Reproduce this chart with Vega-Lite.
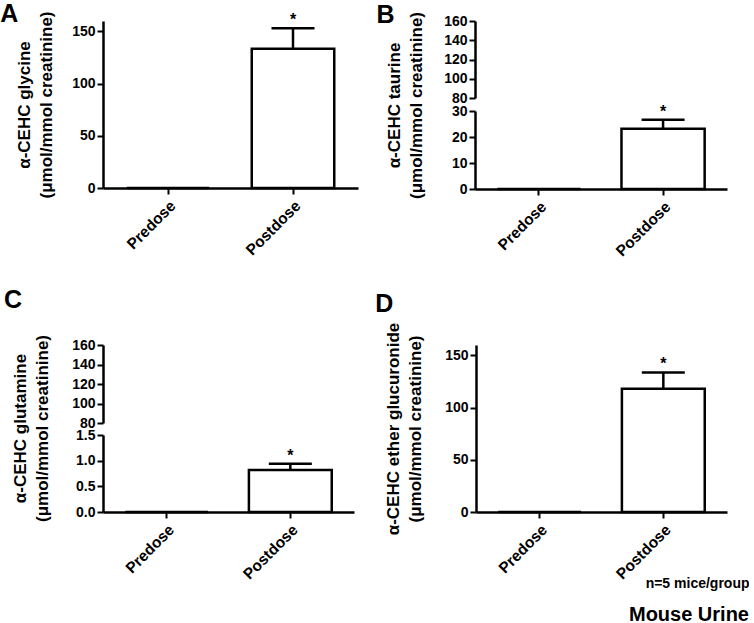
{
  "$schema": "https://vega.github.io/schema/vega-lite/v6.json",
  "background": "white",
  "padding": {"left": 0, "top": 2, "right": 0, "bottom": 0},
  "config": {
    "font": "Liberation Sans",
    "view": {"stroke": null},
    "axis": {
      "domainColor": "black", "domainWidth": 2.5,
      "tickColor": "black", "tickWidth": 2, "tickSize": 6,
      "labelColor": "black", "labelFont": "Liberation Sans", "labelFontSize": 14, "labelFontWeight": "bold", "labelPadding": 2,
      "titleColor": "black", "titleFont": "Liberation Sans", "titleFontSize": 17, "titleFontWeight": "bold", "titleLineHeight": 22,
      "grid": false
    },
    "axisX": {"labelAngle": -45, "labelFontSize": 15.5, "labelPadding": 4},
    "title": {"font": "Liberation Sans", "fontSize": 25, "fontWeight": "bold", "color": "black", "anchor": "start", "frame": "bounds", "offset": 0, "baseline": "alphabetic"}
  },
  "datasets": {
    "urine": [
      {"panel": "A", "group": "Predose", "value": 0, "upper": null, "sig": ""},
      {"panel": "A", "group": "Postdose", "value": 133.5, "upper": 153, "sig": "*"},
      {"panel": "B", "group": "Predose", "value": 0, "upper": null, "sig": ""},
      {"panel": "B", "group": "Postdose", "value": 23.2, "upper": 26.6, "sig": "*"},
      {"panel": "C", "group": "Predose", "value": 0, "upper": null, "sig": ""},
      {"panel": "C", "group": "Postdose", "value": 0.82, "upper": 0.94, "sig": "*"},
      {"panel": "D", "group": "Predose", "value": 0, "upper": null, "sig": ""},
      {"panel": "D", "group": "Postdose", "value": 118, "upper": 133.7, "sig": "*"}
    ]
  },
  "title": {"text": "Mouse Urine", "orient": "bottom", "anchor": "end", "frame": "bounds", "fontSize": 20, "offset": 15, "baseline": "top"},
  "columns": 1,
  "align": "none",
  "spacing": 28,
  "concat": [
    {
      "spacing": 18,
      "hconcat": [
        {
          "title": {"text": "A", "dx": -15, "dy": 20.5},
          "width": 255, "height": 167,
          "data": {"name": "urine"},
          "transform": [{"filter": "datum.panel == 'A'"}],
          "encoding": {
            "x": {"field": "group", "type": "nominal", "sort": ["Predose", "Postdose"], "title": null,
                  "scale": {"paddingInner": 0.34, "paddingOuter": 0.19}}
          },
          "layer": [
            {"mark": {"type": "bar", "fill": "white", "stroke": "black", "strokeWidth": 2.5},
             "encoding": {"y": {"field": "value", "type": "quantitative", "scale": {"domain": [0, 160], "nice": false},
               "axis": {"values": [0, 50, 100, 150], "title": ["α-CEHC glycine", "(μmol/mmol creatinine)"], "titlePadding": 16.5}}}},
            {"transform": [{"filter": "datum.upper != null"}],
             "mark": {"type": "rule", "color": "black", "strokeWidth": 2.5},
             "encoding": {"y": {"field": "value", "type": "quantitative", "scale": {"domain": [0, 160], "nice": false}, "axis": {"values": [0, 50, 100, 150]}}, "y2": {"field": "upper"}}},
            {"transform": [{"filter": "datum.upper != null"}],
             "mark": {"type": "tick", "color": "black", "thickness": 2.5, "size": 43, "opacity": 1},
             "encoding": {"y": {"field": "upper", "type": "quantitative", "scale": {"domain": [0, 160], "nice": false}, "axis": {"values": [0, 50, 100, 150]}}}},
            {"transform": [{"filter": "datum.upper != null"}],
             "mark": {"type": "text", "color": "black", "fontSize": 16, "fontWeight": "bold", "baseline": "alphabetic", "dy": -3},
             "encoding": {"y": {"field": "upper", "type": "quantitative", "scale": {"domain": [0, 160], "nice": false}, "axis": {"values": [0, 50, 100, 150]}}, "text": {"field": "sig"}}}
          ]
        },
        {
          "title": {"text": "B", "dx": -9, "dy": 21},
          "bounds": "flush",
          "spacing": 13,
          "vconcat": [
            {
              "width": 252, "height": 77,
              "data": {"name": "urine"},
              "transform": [{"filter": "datum.panel == 'B'"}],
              "mark": {"type": "bar", "opacity": 0},
              "encoding": {
                "y": {"field": "value", "type": "quantitative", "scale": {"domain": [80, 160], "nice": false, "zero": false},
                      "axis": {"values": [80, 100, 120, 140, 160], "title": null}}
              }
            },
            {
              "width": 252, "height": 78,
              "data": {"name": "urine"},
              "transform": [{"filter": "datum.panel == 'B'"}],
              "encoding": {
                "x": {"field": "group", "type": "nominal", "sort": ["Predose", "Postdose"], "title": null,
                      "scale": {"paddingInner": 0.33, "paddingOuter": 0.18}}
              },
              "layer": [
                {"mark": {"type": "bar", "fill": "white", "stroke": "black", "strokeWidth": 2.5},
                 "encoding": {"y": {"field": "value", "type": "quantitative", "scale": {"domain": [0, 30], "nice": false},
                   "axis": {"values": [0, 10, 20, 30], "title": ["α-CEHC taurine", "(μmol/mmol creatinine)"], "titlePadding": 26, "titleY": -6}}}},
                {"transform": [{"filter": "datum.upper != null"}],
                 "mark": {"type": "rule", "color": "black", "strokeWidth": 2.5},
                 "encoding": {"y": {"field": "value", "type": "quantitative", "scale": {"domain": [0, 30], "nice": false}, "axis": {"values": [0, 10, 20, 30]}}, "y2": {"field": "upper"}}},
                {"transform": [{"filter": "datum.upper != null"}],
                 "mark": {"type": "tick", "color": "black", "thickness": 2.5, "size": 43, "opacity": 1},
                 "encoding": {"y": {"field": "upper", "type": "quantitative", "scale": {"domain": [0, 30], "nice": false}, "axis": {"values": [0, 10, 20, 30]}}}},
                {"transform": [{"filter": "datum.upper != null"}],
                 "mark": {"type": "text", "color": "black", "fontSize": 16, "fontWeight": "bold", "baseline": "alphabetic", "dy": -3},
                 "encoding": {"y": {"field": "upper", "type": "quantitative", "scale": {"domain": [0, 30], "nice": false}, "axis": {"values": [0, 10, 20, 30]}}, "text": {"field": "sig"}}}
              ]
            }
          ]
        }
      ]
    },
    {
      "spacing": 21,
      "hconcat": [
        {
          "title": {"text": "C", "dx": -7.5, "dy": -17},
          "bounds": "flush",
          "spacing": 12,
          "vconcat": [
            {
              "width": 251, "height": 78,
              "data": {"name": "urine"},
              "transform": [{"filter": "datum.panel == 'C'"}],
              "mark": {"type": "bar", "opacity": 0},
              "encoding": {
                "y": {"field": "value", "type": "quantitative", "scale": {"domain": [80, 160], "nice": false, "zero": false},
                      "axis": {"values": [80, 100, 120, 140, 160], "title": null}}
              }
            },
            {
              "width": 251, "height": 77,
              "data": {"name": "urine"},
              "transform": [{"filter": "datum.panel == 'C'"}],
              "encoding": {
                "x": {"field": "group", "type": "nominal", "sort": ["Predose", "Postdose"], "title": null,
                      "scale": {"paddingInner": 0.33, "paddingOuter": 0.18}}
              },
              "layer": [
                {"mark": {"type": "bar", "fill": "white", "stroke": "black", "strokeWidth": 2.5},
                 "encoding": {"y": {"field": "value", "type": "quantitative", "scale": {"domain": [0, 1.5], "nice": false},
                   "axis": {"values": [0, 0.5, 1, 1.5], "format": ".1f", "title": ["α-CEHC glutamine", "(μmol/mmol creatinine)"], "titlePadding": 24, "titleY": -7}}}},
                {"transform": [{"filter": "datum.upper != null"}],
                 "mark": {"type": "rule", "color": "black", "strokeWidth": 2.5},
                 "encoding": {"y": {"field": "value", "type": "quantitative", "scale": {"domain": [0, 1.5], "nice": false}, "axis": {"values": [0, 0.5, 1, 1.5], "format": ".1f"}}, "y2": {"field": "upper"}}},
                {"transform": [{"filter": "datum.upper != null"}],
                 "mark": {"type": "tick", "color": "black", "thickness": 2.5, "size": 43, "opacity": 1},
                 "encoding": {"y": {"field": "upper", "type": "quantitative", "scale": {"domain": [0, 1.5], "nice": false}, "axis": {"values": [0, 0.5, 1, 1.5], "format": ".1f"}}}},
                {"transform": [{"filter": "datum.upper != null"}],
                 "mark": {"type": "text", "color": "black", "fontSize": 16, "fontWeight": "bold", "baseline": "alphabetic", "dy": -3},
                 "encoding": {"y": {"field": "upper", "type": "quantitative", "scale": {"domain": [0, 1.5], "nice": false}, "axis": {"values": [0, 0.5, 1, 1.5], "format": ".1f"}}, "text": {"field": "sig"}}}
              ]
            }
          ]
        },
        {
          "title": {"text": "D", "dx": -9.5, "dy": -1},
          "width": 251, "height": 167,
          "data": {"name": "urine"},
          "transform": [{"filter": "datum.panel == 'D'"}],
          "encoding": {
            "x": {"field": "group", "type": "nominal", "sort": ["Predose", "Postdose"], "title": "n=5 mice/group",
                  "scale": {"paddingInner": 0.33, "paddingOuter": 0.18},
                  "axis": {"titleFontSize": 14, "titleAlign": "right", "titleX": 273, "titleY": 75, "titleBaseline": "alphabetic"}}
          },
          "layer": [
            {"mark": {"type": "bar", "fill": "white", "stroke": "black", "strokeWidth": 2.5},
             "encoding": {"y": {"field": "value", "type": "quantitative", "scale": {"domain": [0, 160], "nice": false},
               "axis": {"values": [0, 50, 100, 150], "title": ["α-CEHC ether glucuronide", "(μmol/mmol creatinine)"], "titlePadding": 20}}}},
            {"transform": [{"filter": "datum.upper != null"}],
             "mark": {"type": "rule", "color": "black", "strokeWidth": 2.5},
             "encoding": {"y": {"field": "value", "type": "quantitative", "scale": {"domain": [0, 160], "nice": false}, "axis": {"values": [0, 50, 100, 150]}}, "y2": {"field": "upper"}}},
            {"transform": [{"filter": "datum.upper != null"}],
             "mark": {"type": "tick", "color": "black", "thickness": 2.5, "size": 43, "opacity": 1},
             "encoding": {"y": {"field": "upper", "type": "quantitative", "scale": {"domain": [0, 160], "nice": false}, "axis": {"values": [0, 50, 100, 150]}}}},
            {"transform": [{"filter": "datum.upper != null"}],
             "mark": {"type": "text", "color": "black", "fontSize": 16, "fontWeight": "bold", "baseline": "alphabetic", "dy": -3},
             "encoding": {"y": {"field": "upper", "type": "quantitative", "scale": {"domain": [0, 160], "nice": false}, "axis": {"values": [0, 50, 100, 150]}}, "text": {"field": "sig"}}}
          ]
        }
      ]
    }
  ]
}
